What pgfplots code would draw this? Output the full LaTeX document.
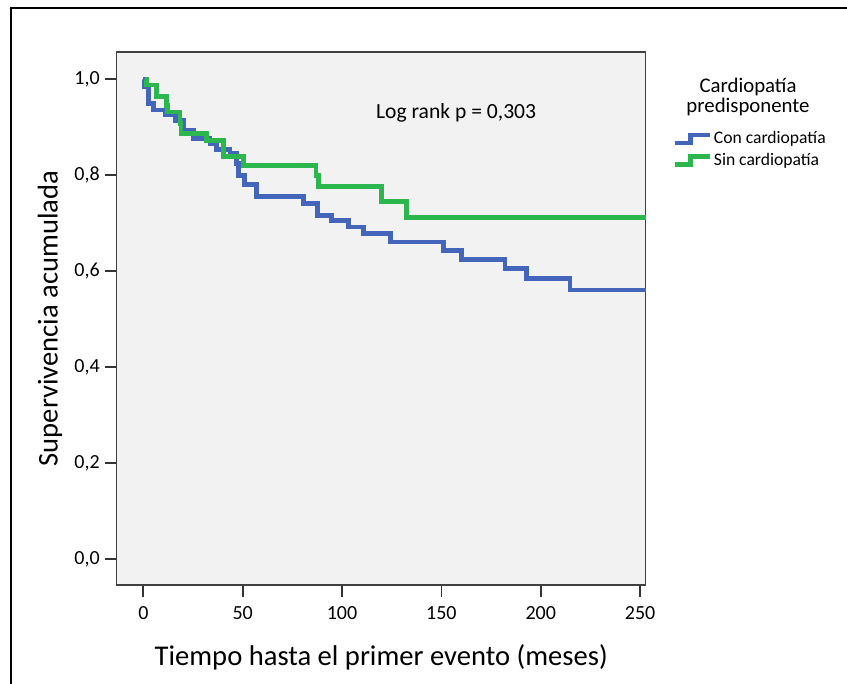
\documentclass[border=0pt]{standalone}
\usepackage{pgfplots}
\pgfplotsset{compat=1.18}
\usepackage{fontspec}
\setmainfont{Carlito}
\definecolor{conblue}{RGB}{68,102,186}
\definecolor{singreen}{RGB}{44,182,78}
\definecolor{plotbg}{RGB}{242,242,242}
\begin{document}
\begin{tikzpicture}
\path[use as bounding box] (-58.35pt,-49.5pt) rectangle (365.15pt,292.5pt);
\draw[black, line width=1.3pt] (-52.85pt,-49.5pt) -- (-52.85pt,288.5pt) -- (366pt,288.5pt);
\begin{axis}[
  at={(0pt,0pt)}, anchor=south west,
  scale only axis, width=264.5pt, height=266.5pt,
  xmin=-13.4, xmax=252.8, ymin=-0.054, ymax=1.057,
  axis background/.style={fill=plotbg},
  axis line style={draw=black!75, line width=0.6pt},
  xtick={0,50,100,150,200,250},
  ytick={0,0.2,0.4,0.6,0.8,1.0},
  tick align=outside, major tick length=6pt,
  tick style={draw=black!80, line width=0.9pt},
  xtick pos=bottom, ytick pos=left,
  /pgf/number format/assume math mode=true,
  yticklabel style={/pgf/number format/use comma, /pgf/number format/fixed, /pgf/number format/fixed zerofill, /pgf/number format/precision=1, xshift=1pt},
  ticklabel style={font=\fontsize{10}{12}\selectfont},
  xticklabel style={yshift=-1pt},
  xlabel={Tiempo hasta el primer evento (meses)},
  ylabel={Supervivencia acumulada},
  label style={font=\fontsize{14.3}{16}\selectfont},
  xlabel style={at={(axis description cs:0.5,0)}, anchor=center, yshift=-36pt},
  ylabel style={at={(axis description cs:0,0.5)}, anchor=center, yshift=33.3pt},
  clip=false,
  legend style={draw=none, fill=none, at={(axis cs:266.6,0.853)}, anchor=west,
    inner sep=0pt, outer sep=0pt, row sep=0pt,
    font=\fontsize{8.8}{10}\selectfont,
    nodes={inner sep=0.6pt, text height=7pt, text depth=2.5pt}},
  legend cell align=left,
  legend image code/.code={\draw[#1, line width=2.3pt] (0pt,-2pt) -- (7.5pt,-2pt) -- (7.5pt,2pt) -- (17.5pt,2pt);},
]
\addplot[const plot, conblue, line width=2.4pt] coordinates {
(0,1.0) (0.5,0.985) (2.5,0.95) (5,0.936) (10.9,0.926) (16,0.915) (20.1,0.894)
(25.2,0.877) (33.6,0.867) (36.9,0.853) (43.6,0.846) (47,0.825) (47.8,0.80)
(51,0.780) (57.1,0.755) (80.5,0.742) (87.5,0.716) (94.5,0.705) (103.2,0.692)
(110.7,0.679) (124.2,0.661) (151,0.644) (160.2,0.625) (182,0.606) (193,0.585)
(214.7,0.561) (252.8,0.561)
};
\addlegendentry{Con cardiopatía}
\addplot[const plot, singreen, line width=2.4pt] coordinates {
(1,1.0) (1.7,0.988) (6.7,0.964) (11.8,0.946) (12.2,0.932) (18.5,0.908) (19,0.887)
(31.9,0.873) (40.3,0.839) (50.3,0.821) (86.9,0.80) (88,0.776) (120,0.745)
(132.6,0.712) (252.8,0.712)
};
\addlegendentry{Sin cardiopatía}
\node[align=center, font=\fontsize{10.4}{10}\selectfont] at (axis cs:304.3,0.964) {Cardiopatía\\predisponente};
\node[font=\fontsize{10.8}{12}\selectfont] at (axis cs:157.4,0.930) {Log rank p = 0,303};
\end{axis}
\end{tikzpicture}
\end{document}
